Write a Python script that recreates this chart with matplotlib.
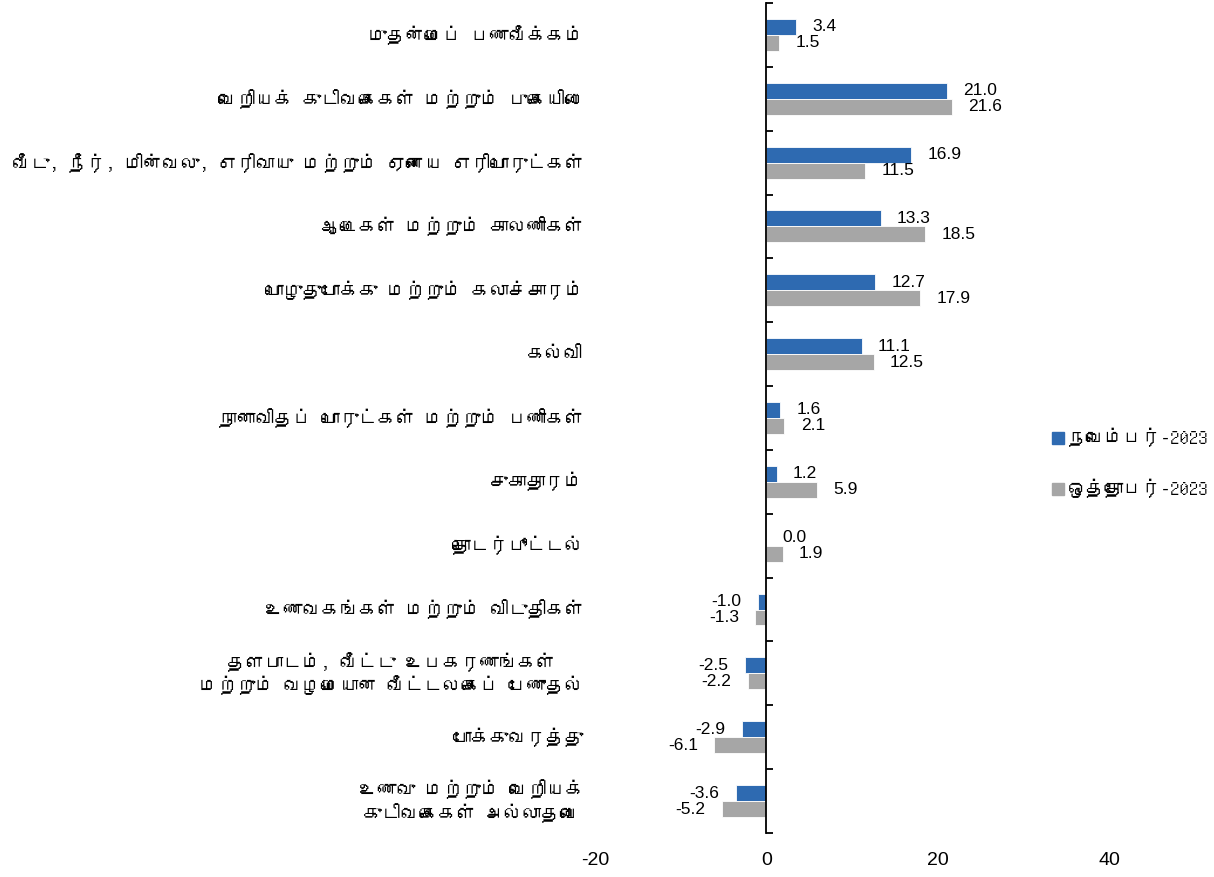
import matplotlib
matplotlib.use("Agg")
import matplotlib.pyplot as plt
import numpy as np
from matplotlib import font_manager
from matplotlib.ft2font import FT2Font
from matplotlib.patches import Patch

# ---- DATA ----
categories = [
    "முதன்மைப் பணவீக்கம்",
    "வெறியக் குடிவகைகள் மற்றும் புகையிலை",
    "வீடு, நீர், மின்வலு, எரிவாயு மற்றும் ஏனைய எரிபொருட்கள்",
    "ஆடைகள் மற்றும் காலணிகள்",
    "பொழுதுபோக்கு மற்றும் கலாச்சாரம்",
    "கல்வி",
    "நானாவிதப் பொருட்கள் மற்றும் பணிகள்",
    "சுகாதாரம்",
    "தொடர்பூட்டல்",
    "உணவகங்கள் மற்றும் விடுதிகள்",
    "தளபாடம், வீட்டு உபகரணங்கள்\nமற்றும் வழமையான வீட்டலகைப் பேணுதல்",
    "போக்குவரத்து",
    "உணவு மற்றும் வெறியக்\nகுடிவகைகள் அல்லாதவை",
]
nov_2023 = [3.4, 21.0, 16.9, 13.3, 12.7, 11.1, 1.6, 1.2, 0.0, -1.0, -2.5, -2.9, -3.6]
oct_2023 = [1.5, 21.6, 11.5, 18.5, 17.9, 12.5, 2.1, 5.9, 1.9, -1.3, -2.2, -6.1, -5.2]
series_names = ["நவெம்பர்-2023", "ஒத்தோபர்-2023"]
x_ticks = [-20, 0, 20, 40]

# ---- FONT: pick an installed font that covers Tamil, if any ----
tamil_family = None
for f in font_manager.fontManager.ttflist:
    try:
        if 0x0B95 in FT2Font(f.fname).get_charmap():
            tamil_family = f.name
            break
    except Exception:
        pass
families = ([tamil_family] if tamil_family else []) + ["Liberation Sans", "DejaVu Sans"]
plt.rcParams["font.family"] = families

blue = "#2E6AB1"
grey = "#A6A6A6"

# ---- PLOT ----
fig = plt.figure(figsize=(12.14, 8.77), dpi=100)
ax = fig.add_axes([0.490, 0.0502, 0.424, 0.9464])

n = len(categories)
y = np.arange(n)
h = 0.25
ax.barh(y - h / 2, nov_2023, height=h, color=blue, edgecolor="white", linewidth=0.6)
ax.barh(y + h / 2, oct_2023, height=h, color=grey, edgecolor="white", linewidth=0.6)

ax.set_xlim(-20, 40)
ax.set_ylim(n - 0.5, -0.5)

# value labels
off = 1.9
for i in range(n):
    for v, dy in ((nov_2023[i], -h / 2), (oct_2023[i], h / 2)):
        if v >= 0:
            ax.text(v + off, i + dy, f"{v:.1f}", ha="left", va="center",
                    fontsize=12.5, family=["Liberation Sans"])
        else:
            ax.text(v - off, i + dy, f"{v:.1f}", ha="right", va="center",
                    fontsize=12.5, family=["Liberation Sans"])

# category labels left of plot area
for i, c in enumerate(categories):
    ax.text(-0.022, i, c, transform=ax.get_yaxis_transform(), ha="right",
            va="center", multialignment="center", fontsize=13.5)

# spines / ticks
for s in ("top", "right", "bottom"):
    ax.spines[s].set_visible(False)
ax.spines["left"].set_position(("data", 0))
ax.spines["left"].set_linewidth(1.3)
ax.set_yticks(np.arange(n + 1) - 0.5)
ax.set_yticklabels([])
ax.tick_params(axis="y", direction="in", length=5, width=1.3)
ax.set_xticks(x_ticks)
ax.set_xticklabels([str(t) for t in x_ticks], family=["Liberation Sans"], fontsize=14)
ax.tick_params(axis="x", length=0, pad=14)

# legend
handles = [Patch(color=blue), Patch(color=grey)]
fig.legend(handles, series_names, loc="center left", bbox_to_anchor=(0.853, 0.472),
           frameon=False, handlelength=0.6, handleheight=0.6, handletextpad=0.2,
           labelspacing=1.7, prop={"size": 13.5, "weight": "bold"})

fig.savefig("out.png", dpi=100)
